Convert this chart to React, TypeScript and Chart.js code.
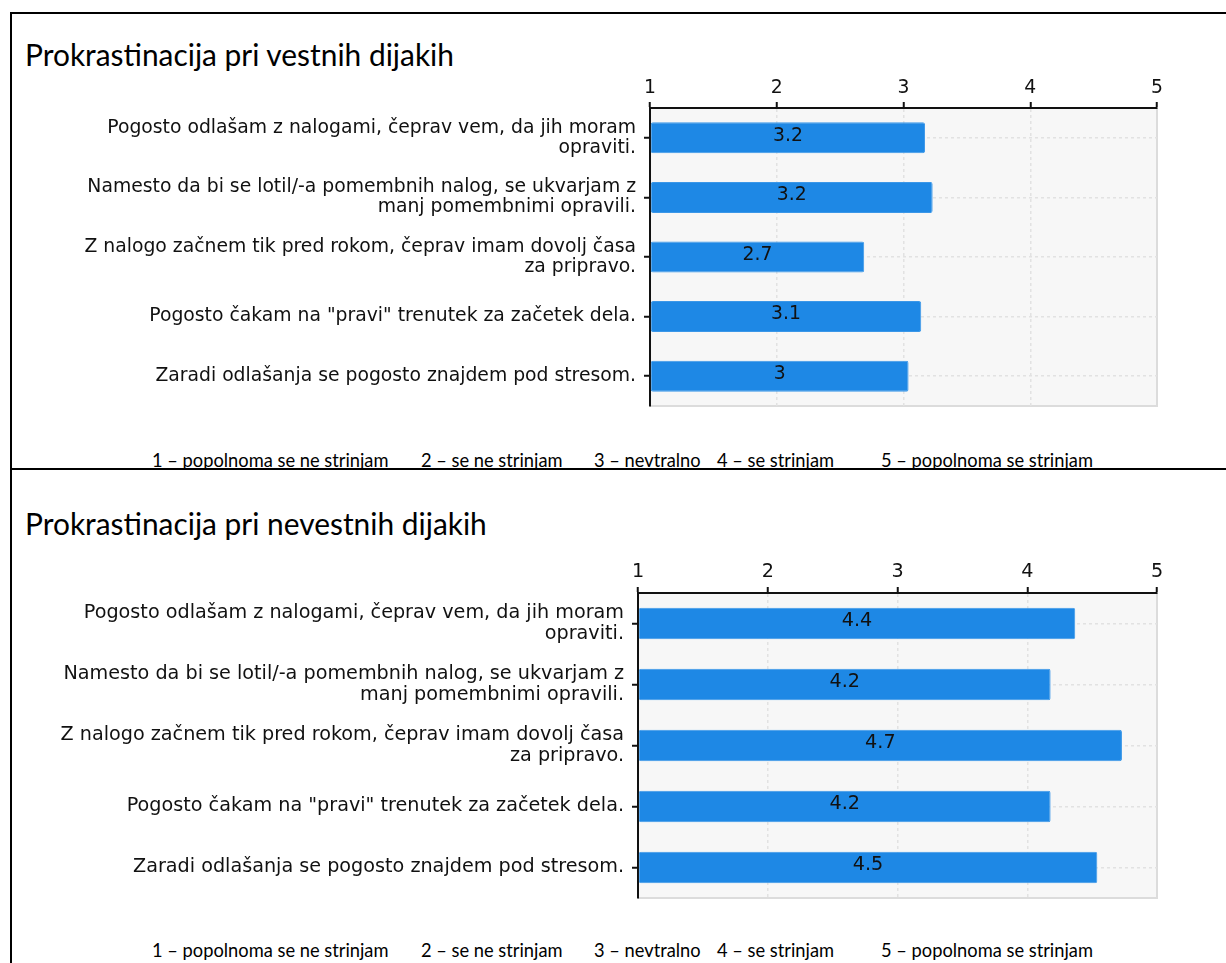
import React, { useEffect, useRef } from 'react';
import { Chart, registerables } from 'chart.js';

Chart.register(...registerables);

// ---------- data ----------
const statements: string[][] = [
  ['Pogosto odlašam z nalogami, čeprav vem, da jih moram', 'opraviti.'],
  ['Namesto da bi se lotil/-a pomembnih nalog, se ukvarjam z', 'manj pomembnimi opravili.'],
  ['Z nalogo začnem tik pred rokom, čeprav imam dovolj časa', 'za pripravo.'],
  ['Pogosto čakam na "pravi" trenutek za začetek dela.'],
  ['Zaradi odlašanja se pogosto znajdem pod stresom.'],
];
const conscientiousValues = [3.17, 3.23, 2.69, 3.14, 3.04];
const nonConscientiousValues = [4.37, 4.18, 4.73, 4.18, 4.54];
const scaleMin = 1;
const scaleMax = 5;
const legendItems = [
  '1 – popolnoma se ne strinjam',
  '2 – se ne strinjam',
  '3 – nevtralno',
  '4 – se strinjam',
  '5 – popolnoma se strinjam',
];
const panelTitles = ['Prokrastinacija pri vestnih dijakih', 'Prokrastinacija pri nevestnih dijakih'];

// ---------- styling ----------
const BAR_COLOR = '#1e88e5';
const CHART_FONT = '"DejaVu Sans", Verdana, sans-serif';
const DOC_FONT = 'Lato, Carlito, Calibri, sans-serif';
const legendX = [152, 421, 594, 717, 881];

const plotBgPlugin = {
  id: 'plotBg',
  beforeDraw(chart: any) {
    const { ctx, chartArea } = chart;
    const { left, top, right, bottom } = chartArea;
    ctx.save();
    ctx.fillStyle = '#f7f7f7';
    ctx.fillRect(left, top, right - left, bottom - top);
    ctx.strokeStyle = '#dcdcdc';
    ctx.lineWidth = 2;
    ctx.beginPath();
    ctx.moveTo(right, top);
    ctx.lineTo(right, bottom);
    ctx.lineTo(left, bottom);
    ctx.stroke();
    ctx.restore();
  },
};

const barLabelPlugin = {
  id: 'barLabels',
  afterDatasetsDraw(chart: any) {
    const { ctx } = chart;
    const size = chart.options.plugins.barLabels.size;
    chart.data.datasets.forEach((ds: any, di: number) => {
      const meta = chart.getDatasetMeta(di);
      meta.data.forEach((el: any, i: number) => {
        const v = ds.data[i];
        const txt = String(Number(v.toFixed(1)));
        const cx = (el.x + el.base) / 2;
        ctx.save();
        ctx.fillStyle = '#111';
        ctx.font = `${size}px ${CHART_FONT}`;
        ctx.textAlign = 'center';
        ctx.textBaseline = 'middle';
        ctx.fillText(txt, cx, el.y - 2);
        ctx.restore();
      });
    });
  },
};

type ChartProps = {
  values: number[];
  left: number;
  top: number;
  width: number;
  height: number;
  yWidth: number;
  xHeight: number;
  padRight: number;
  padBottom: number;
  fontSize: number;
};

function LikertChart(p: ChartProps) {
  const ref = useRef<HTMLCanvasElement | null>(null);
  useEffect(() => {
    if (!ref.current) return;
    const chart = new Chart(ref.current, {
      type: 'bar',
      data: {
        labels: statements,
        datasets: [
          {
            data: p.values,
            base: scaleMin,
            backgroundColor: BAR_COLOR,
            borderColor: '#3b97e8',
            borderWidth: 1,
            borderRadius: 2,
            borderSkipped: false,
            barPercentage: 0.52,
            categoryPercentage: 1,
          } as any,
        ],
      },
      options: {
        indexAxis: 'y',
        responsive: false,
        animation: false,
        devicePixelRatio: 1,
        layout: { padding: { left: 0, top: 0, right: p.padRight, bottom: p.padBottom } },
        plugins: {
          legend: { display: false },
          tooltip: { enabled: false },
          barLabels: { size: p.fontSize },
        } as any,
        scales: {
          x: {
            type: 'linear',
            position: 'top',
            min: scaleMin,
            max: scaleMax,
            afterFit: (s: any) => {
              s.height = p.xHeight;
              s.paddingLeft = 0;
              s.paddingRight = 0;
            },
            ticks: {
              stepSize: 1,
              color: '#111',
              padding: 3,
              font: { family: CHART_FONT, size: p.fontSize },
            },
            grid: {
              color: (c: any) => (c.tick && c.tick.value === scaleMax ? 'rgba(0,0,0,0)' : '#e2e2e2'),
              lineWidth: 1.5,
              drawTicks: true,
              tickLength: 6,
              tickColor: '#111',
              tickWidth: 2,
            },
            border: { display: true, color: '#111', width: 2, dash: [3, 3] },
          },
          y: {
            type: 'category',
            position: 'left',
            afterFit: (s: any) => {
              s.width = p.yWidth;
              s.paddingTop = 0;
              s.paddingBottom = 0;
            },
            ticks: {
              autoSkip: false,
              color: '#111',
              padding: 8,
              font: { family: CHART_FONT, size: p.fontSize, lineHeight: 1.07 },
            },
            grid: {
              offset: false,
              color: '#e2e2e2',
              lineWidth: 1.5,
              drawTicks: true,
              tickLength: 6,
              tickColor: '#111',
              tickWidth: 2,
            },
            border: { display: true, color: '#111', width: 2, dash: [3, 3] },
          },
        },
      },
      plugins: [plotBgPlugin, barLabelPlugin],
    } as any);
    return () => chart.destroy();
  }, []);
  return (
    <canvas
      ref={ref}
      width={p.width}
      height={p.height}
      style={{ position: 'absolute', left: p.left, top: p.top, width: p.width, height: p.height }}
    />
  );
}

function Legend({ top }: { top: number }) {
  return (
    <>
      {legendItems.map((t, i) => (
        <div
          key={i}
          style={{
            position: 'absolute',
            left: legendX[i],
            top,
            fontFamily: DOC_FONT,
            fontSize: 18.3,
            lineHeight: '20px',
            whiteSpace: 'pre',
            color: '#000',
          }}
        >
          {t}
        </div>
      ))}
    </>
  );
}

function Title({ text, top }: { text: string; top: number }) {
  return (
    <div
      style={{
        position: 'absolute',
        left: 25,
        top,
        fontFamily: DOC_FONT,
        fontSize: 29.9,
        lineHeight: '36px',
        whiteSpace: 'pre',
        color: '#000',
      }}
    >
      {text}
    </div>
  );
}

export default function App() {
  return (
    <div
      style={{
        position: 'absolute',
        left: 0,
        top: 0,
        width: 1226,
        height: 963,
        overflow: 'hidden',
        background: '#fff',
      }}
    >
      {/* frame lines */}
      <div style={{ position: 'absolute', left: 10, top: 12, width: 1216, height: 2, background: '#000' }} />
      <div style={{ position: 'absolute', left: 10, top: 12, width: 2, height: 951, background: '#000' }} />
      <div style={{ position: 'absolute', left: 10, top: 468, width: 1216, height: 2, background: '#000' }} />

      <Title text={panelTitles[0]} top={36} />
      <LikertChart
        values={conscientiousValues}
        left={12}
        top={60}
        width={1188}
        height={360}
        yWidth={638}
        xHeight={48}
        padRight={43}
        padBottom={14}
        fontSize={18.8}
      />
      <Legend top={450} />

      <Title text={panelTitles[1]} top={505} />
      <LikertChart
        values={nonConscientiousValues}
        left={12}
        top={545}
        width={1188}
        height={370}
        yWidth={626}
        xHeight={48}
        padRight={43}
        padBottom={17}
        fontSize={19.2}
      />
      <Legend top={940} />
    </div>
  );
}
